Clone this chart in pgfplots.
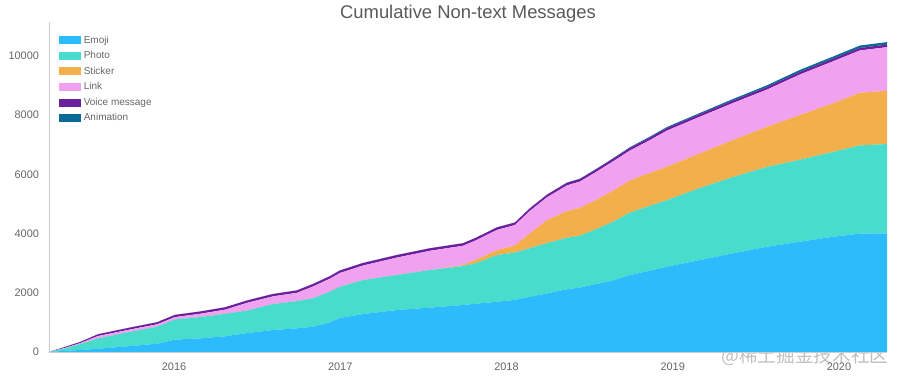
\documentclass[border=0pt]{standalone}
\usepackage{pgfplots}
\pgfplotsset{compat=1.18}
\usepackage{pgfplotstable}
\usepackage{fontspec}
\setmainfont{Liberation Sans}
\newfontfamily\cjk{Noto Sans CJK SC}
\definecolor{cEmoji}{HTML}{2DBCFB}
\definecolor{cPhoto}{HTML}{47DCCB}
\definecolor{cSticker}{HTML}{F3AF4B}
\definecolor{cLink}{HTML}{F0A2F0}
\definecolor{cVoice}{HTML}{6B1F9B}
\definecolor{cAnim}{HTML}{086B97}
\definecolor{txt}{HTML}{666666}

\pgfplotstableread{
year E Ph St Li Vo An
2015.248 0 0 0 0 0 0
2015.344 40 80 0 20 30 0
2015.435 68 200 0 30 40 0
2015.543 110 350 0 80 60 0
2015.735 200 480 0 80 65 0
2015.898 280 575 0 80 70 0
2016.006 420 680 0 80 75 0
2016.156 460 720 0 110 78 0
2016.307 530 760 0 140 80 0
2016.439 640 760 0 260 80 0
2016.595 743 877 0 260 80 0
2016.740 800 920 0 280 82 0
2016.836 855 959 0 400 84 0
2016.938 1000 1038 0 440 84 0
2016.998 1150 1050 0 470 85 0
2017.137 1280 1152 0 490 86 0
2017.341 1419 1182 0 590 86 0
2017.540 1500 1270 0 650 86 0
2017.738 1588 1317 34 650 86 0
2017.811 1630 1360 110 660 86 0
2017.943 1700 1576 170 680 86 0
2018.051 1760 1600 240 690 86 0
2018.141 1868 1642 500 760 86 0
2018.244 1980 1699 780 770 86 5
2018.364 2120 1740 900 870 86 10
2018.442 2180 1750 940 890 86 10
2018.544 2300 1860 990 950 86 15
2018.641 2420 1980 1050 990 86 20
2018.743 2601 2109 1090 1010 86 25
2018.863 2750 2190 1110 1110 86 30
2018.965 2882 2248 1130 1220 86 35
2019.164 3108 2434 1170 1240 86 40
2019.362 3334 2577 1250 1250 86 50
2019.567 3557 2694 1360 1255 86 60
2019.765 3726 2770 1510 1370 86 70
2019.964 3895 2866 1640 1420 86 75
2020.126 4000 2979 1780 1430 86 80
2020.289 4010 3017 1800 1473 86 85
}\data

\begin{document}
\begin{tikzpicture}
\useasboundingbox (-36.75pt,-20.25pt) rectangle (637.5pt,264pt);
\begin{axis}[
  at={(0pt,0pt)}, anchor=south west,
  scale only axis, width=628.5pt, height=247.5pt,
  xmin=2015.248, xmax=2020.289, ymin=0, ymax=11150,
  scaled y ticks=false, scaled x ticks=false,
  stack plots=y, area style,
  clip=false,
  axis x line=bottom, axis y line=left,
  axis line style={-, draw=black!20},
  major tick length=0pt,
  xtick={2016,2017,2018,2019,2020},
  xticklabels={2016,2017,2018,2019,2020},
  ytick={0,2000,4000,6000,8000,10000},
  yticklabels={0,2000,4000,6000,8000,10000},
  tick label style={font=\fontsize{8.2}{10}\selectfont, text=txt},
  yticklabel style={xshift=-4pt},
  xticklabel style={yshift=-4.5pt},
  title={Cumulative Non-text Messages},
  title style={font=\fontsize{13.8}{15}\selectfont, text=black!65, anchor=base, at={(0.5,1)}, yshift=-3.5pt},
  legend style={at={(0.007,0.975)}, anchor=north west, draw=none, fill=none,
    font=\fontsize{7.5}{9}\selectfont, text=txt, row sep=0.7pt},
  legend cell align=left,
  legend image code/.code={\fill[#1] (0pt,-3pt) rectangle (16.5pt,3pt);},
]
\addplot[fill=cEmoji, draw=none] table[x=year,y=E]{\data} \closedcycle;
\addlegendentry{Emoji}
\addplot[fill=cPhoto, draw=none] table[x=year,y=Ph]{\data} \closedcycle;
\addlegendentry{Photo}
\addplot[fill=cSticker, draw=none] table[x=year,y=St]{\data} \closedcycle;
\addlegendentry{Sticker}
\addplot[fill=cLink, draw=none] table[x=year,y=Li]{\data} \closedcycle;
\addlegendentry{Link}
\addplot[fill=cVoice, draw=none] table[x=year,y=Vo]{\data} \closedcycle;
\addlegendentry{Voice message}
\addplot[fill=cAnim, draw=none] table[x=year,y=An]{\data} \closedcycle;
\addlegendentry{Animation}
\node[font=\cjk\fontsize{14}{14}\selectfont, text=black!25, anchor=center]
  at (rel axis cs:0.902,-0.012) {@稀土掘金技术社区};
\end{axis}
\end{tikzpicture}
\end{document}
